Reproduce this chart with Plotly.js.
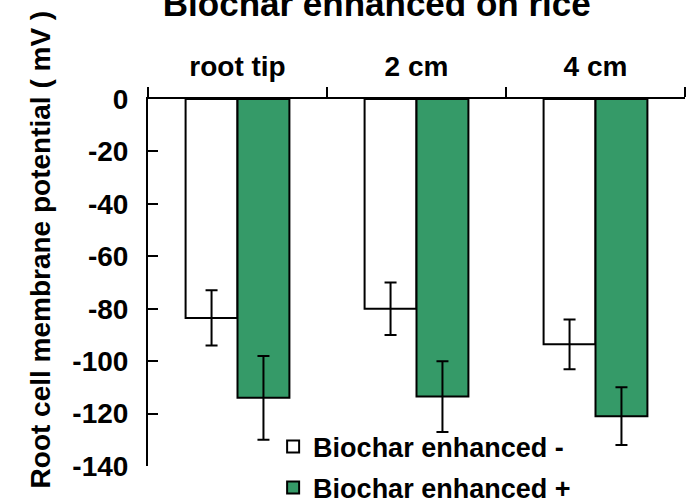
<!DOCTYPE html>
<html>
<head>
<meta charset="utf-8">
<script src="https://cdn.plot.ly/plotly-3.0.1.min.js"></script>
<style>
  html, body { margin: 0; padding: 0; background: #ffffff; }
  #chart { width: 691px; height: 504px; }
</style>
</head>
<body>
<div id="chart"></div>
<script>
// Root cell membrane potential (mV) at three positions along the root
const positions = ['root tip', '2 cm', '4 cm'];

const withoutBiochar = [-83.5, -80, -93.6];
const withoutBiocharErr = [10.5, 10, 9.5];

const withBiochar = [-114, -113.5, -121];
const withBiocharErr = [16, 13.5, 11];

const seriesNames = ['Biochar enhanced -', 'Biochar enhanced +'];

// y-axis ticks, labelled with a plain hyphen
const yTickVals = [0, -20, -40, -60, -80, -100, -120, -140];
const yTickText = ['0', '-20', '-40', '-60', '-80', '-100', '-120', '-140'];

const FONT = 'Liberation Sans, Arial, sans-serif';

const errStyle = (arr) => ({
  type: 'data', array: arr, visible: true,
  color: '#000000', thickness: 2, width: 6
});

const traces = [
  {
    type: 'bar', name: seriesNames[0], x: positions, y: withoutBiochar,
    error_y: errStyle(withoutBiocharErr),
    marker: { color: '#ffffff', line: { color: '#000000', width: 2 } },
    legendgroup: 'a'
  },
  {
    type: 'bar', name: seriesNames[1], x: positions, y: withBiochar,
    error_y: errStyle(withBiocharErr),
    marker: { color: '#359a68', line: { color: '#000000', width: 2 } },
    legendgroup: 'b'
  }
];

const layout = {
  width: 691, height: 504,
  paper_bgcolor: '#ffffff', plot_bgcolor: '#ffffff',
  margin: { l: 148, r: 6, t: 99, b: 38, autoexpand: false },
  font: { family: FONT, color: '#000000' },
  barmode: 'group', bargap: 0.42, bargroupgap: 0,
  title: {
    text: '<b>Biochar enhanced on rice</b>',
    font: { family: FONT, size: 35, color: '#000000' },
    x: 0.426, xref: 'paper', xanchor: 'center',
    y: 0.992, yref: 'container', yanchor: 'middle',
    automargin: false
  },
  xaxis: {
    side: 'top', type: 'category', automargin: false,
    ticks: 'outside', tickson: 'boundaries', ticklen: 10, tickwidth: 2, tickcolor: '#000',
    showline: true, linewidth: 2, linecolor: '#000',
    showgrid: false, zeroline: false,
    tickfont: { family: FONT, size: 28, color: '#000', weight: 'bold' },
    ticklabelstandoff: 10
  },
  yaxis: {
    range: [-140, 0], automargin: false,
    tickmode: 'array', tickvals: yTickVals, ticktext: yTickText,
    ticks: 'inside', ticklen: 10, tickwidth: 2, tickcolor: '#000',
    showline: true, linewidth: 2, linecolor: '#000',
    showgrid: false, zeroline: false,
    tickfont: { family: FONT, size: 28, color: '#000', weight: 'bold' },
    ticklabelstandoff: 12
  },
  showlegend: true,
  legend: {
    x: 0.233, xanchor: 'left', y: 0.119, yanchor: 'top',
    bgcolor: 'rgba(0,0,0,0)', borderwidth: 0,
    traceorder: 'grouped', tracegroupgap: 3,
    font: { family: FONT, size: 27, color: '#000', weight: 'bold' }
  },
  annotations: [{
    text: '<b>Root cell membrane potential ( mV )</b>',
    textangle: -90, showarrow: false,
    xref: 'paper', yref: 'paper',
    x: -0.2, xanchor: 'center',
    y: 0.589, yanchor: 'middle',
    font: { family: FONT, size: 28, color: '#000' }
  }]
};

Plotly.newPlot('chart', traces, layout, { staticPlot: true, displayModeBar: false });
</script>
</body>
</html>
